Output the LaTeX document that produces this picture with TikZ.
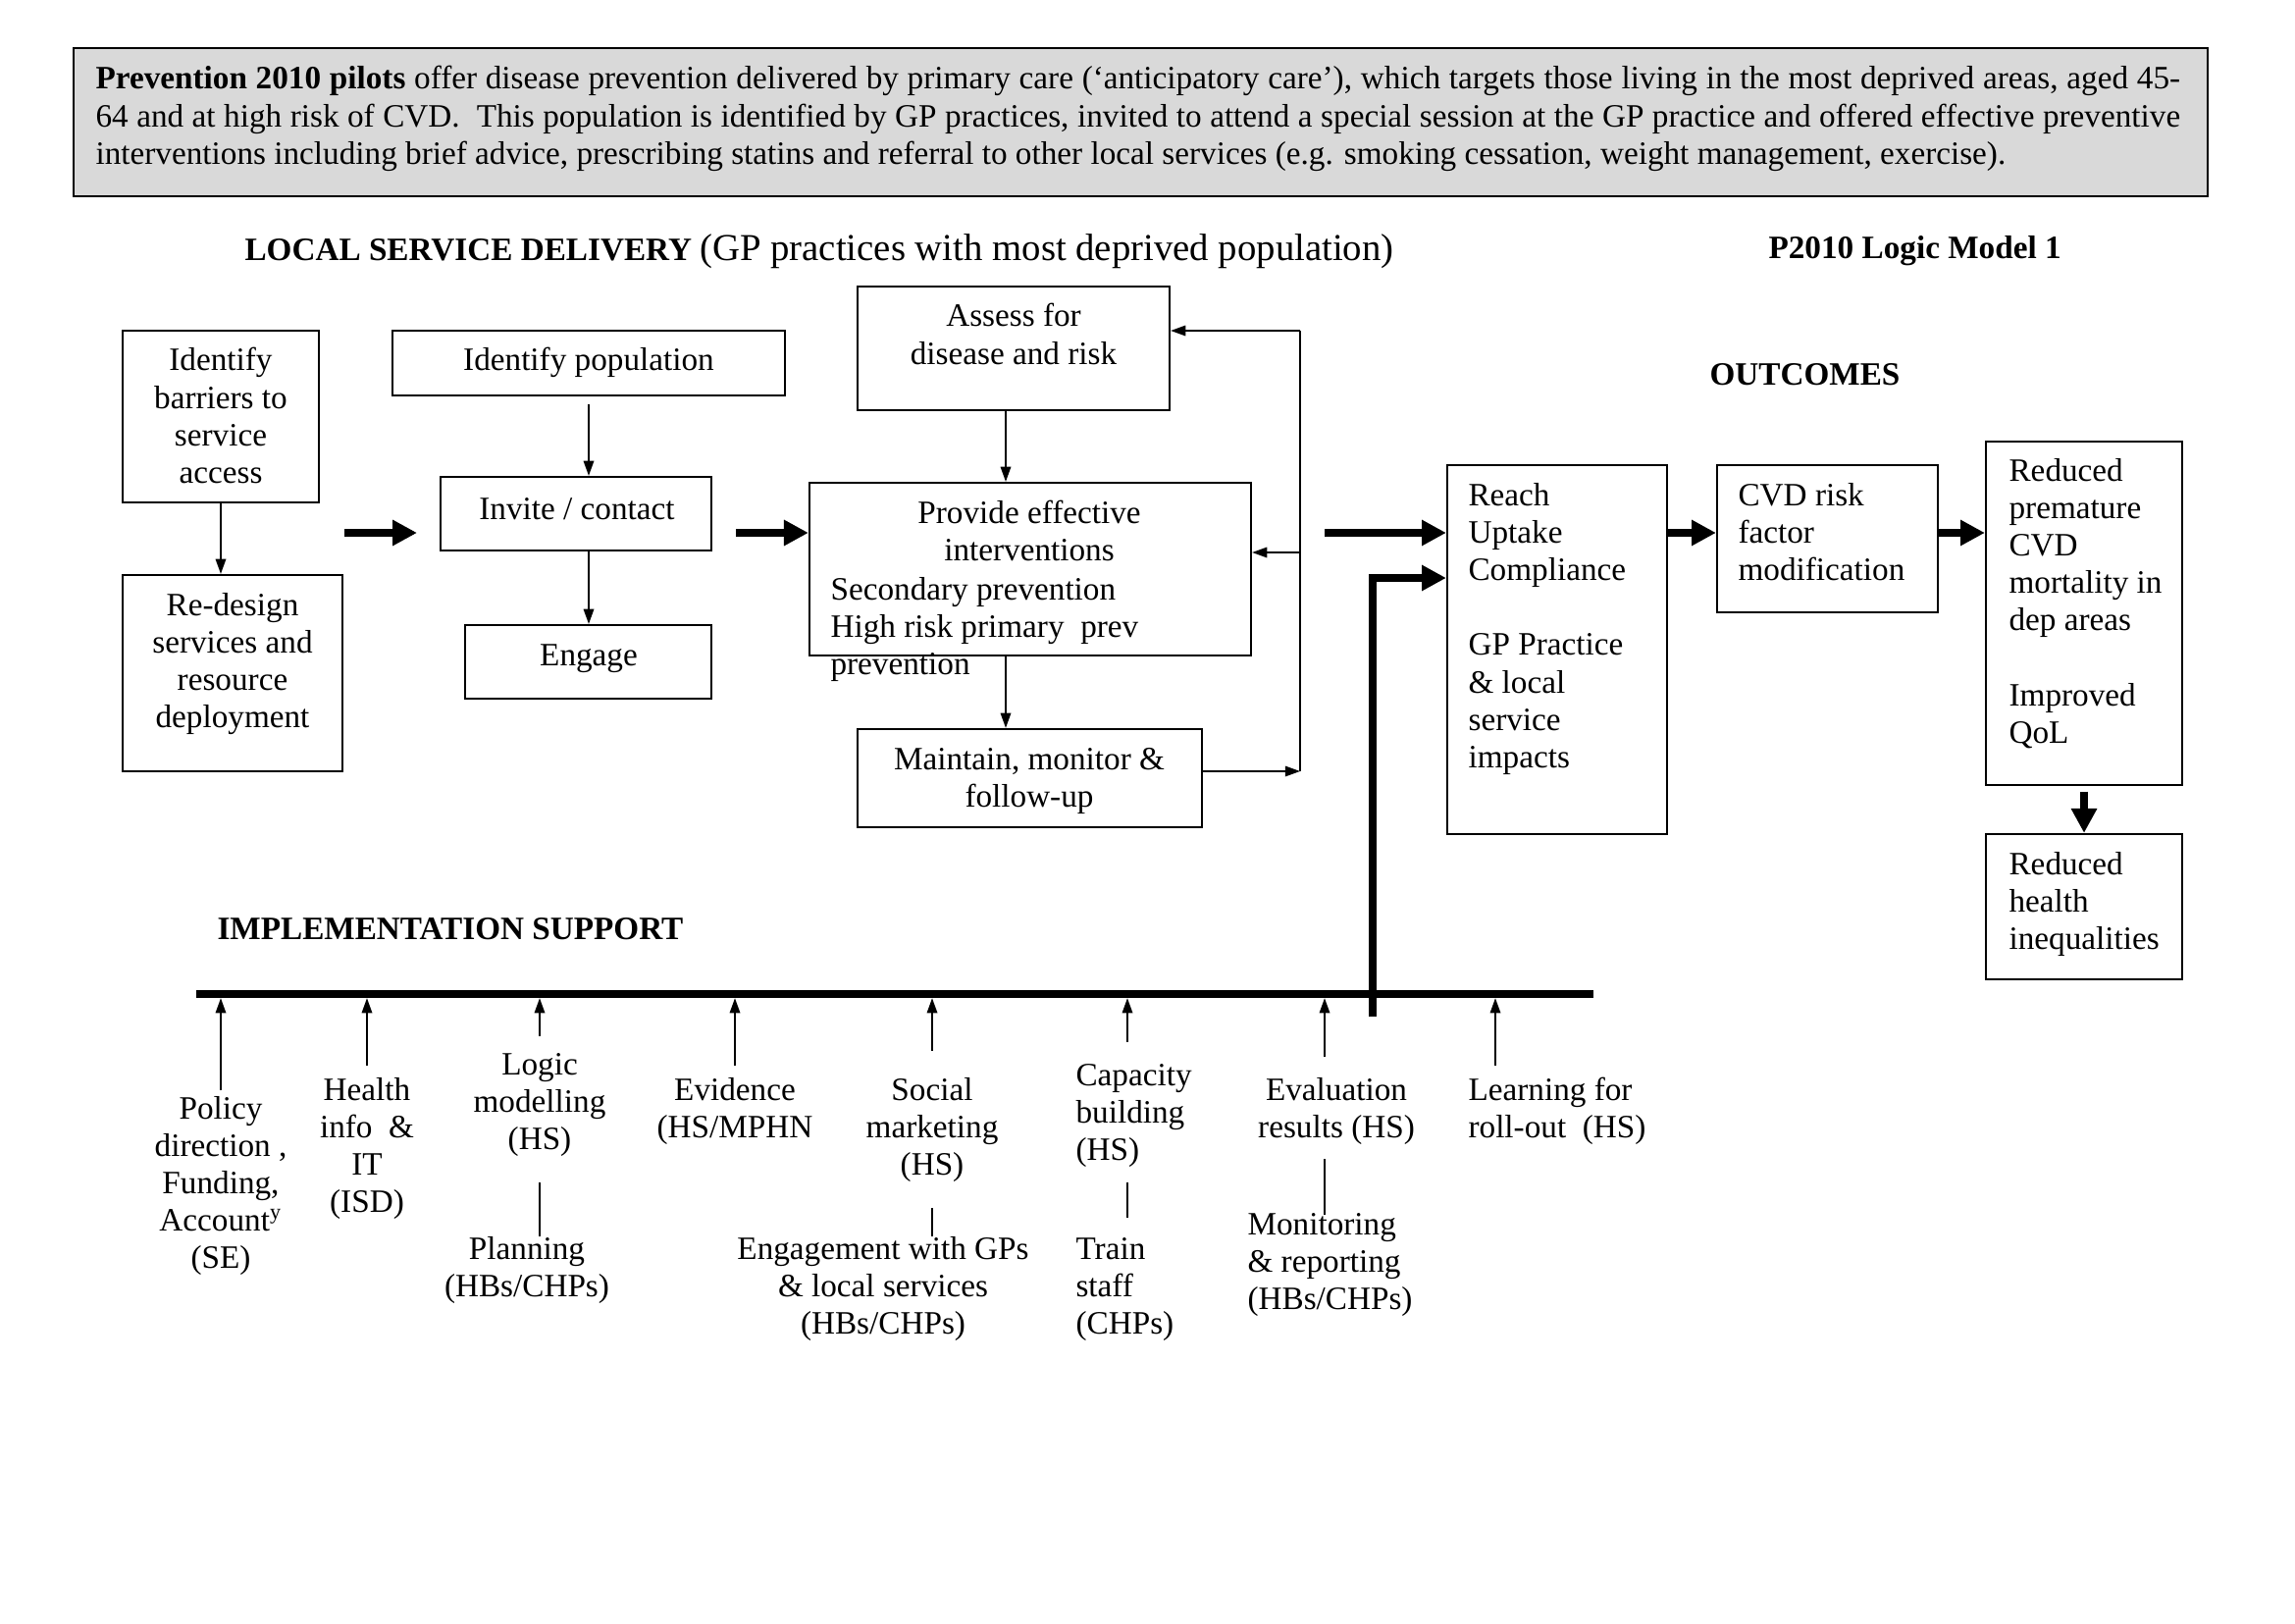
\documentclass[tikz,border=0pt]{standalone}
\usepackage{fontspec}
\setmainfont{Liberation Serif}
\usetikzlibrary{arrows.meta,fit}
\begin{document}
\begin{tikzpicture}[x=0.0127cm,y=-0.0127cm,
  font=\fontsize{12}{13.8}\selectfont,
  box/.style={draw,line width=0.8pt,inner sep=0pt},
  txt/.style={inner sep=0pt,align=center,anchor=base},
  txtl/.style={inner sep=0pt,align=left,anchor=base west},
  nlines/.style={yshift={-(#1-1)*13.8pt}},
  thinarrow/.style={line width=0.6pt,-{Triangle[length=5.5pt,width=3.8pt]}},
  thickarrow/.style={line width=3pt,-{Triangle[length=9pt,width=9pt]}},
  plainline/.style={line width=0.6pt},
]
\useasboundingbox (0,0) rectangle (2339,1654);

% intro box
\node[box, fill=black!15, fit={(75,49) (2250,200)}] (intro) {};
\node[inner sep=0pt, anchor=north west, text width=26.97cm, align=justify] (introT) at (97,67)
 {\textbf{Prevention 2010 pilots} offer disease prevention delivered by primary care (‘anticipatory care’), which targets those living in the most deprived areas, aged 45-\linebreak 64 and at high risk of CVD.\ \ This population is identified by GP practices, invited to attend a special session at the GP practice and offered effective preventive\linebreak interventions including brief advice, prescribing statins and referral to other local services (e.g. smoking cessation, weight management, exercise).};

% headings
\node[inner sep=0pt, anchor=base west] (hLocal) at (249,266) {\textbf{LOCAL SERVICE DELIVERY} {\fontsize{14}{16}\selectfont (GP practices with most deprived population)}};
\node[inner sep=0pt, anchor=base west] (hModel) at (1802,264) {\textbf{P2010 Logic Model 1}};
\node[inner sep=0pt, anchor=base west] (hOut) at (1742,393) {\textbf{OUTCOMES}};
\node[inner sep=0pt, anchor=base west] (hImpl) at (221,957) {\textbf{IMPLEMENTATION SUPPORT}};

% service delivery boxes
\node[box, fit={(125,337) (325,512)}] (barriers) {};
\node[txt, nlines=4] (barriersT) at (225,378) {Identify\\barriers to\\service\\access};
\node[box, fit={(125,586) (349,786)}] (redesign) {};
\node[txt, nlines=4] (redesignT) at (237,627) {Re-design\\services and\\resource\\deployment};
\node[box, fit={(400,337) (800,403)}] (idpop) {};
\node[txt] (idpopT) at (600,378) {Identify population};
\node[box, fit={(449,486) (725,561)}] (invite) {};
\node[txt] (inviteT) at (588,529) {Invite / contact};
\node[box, fit={(474,637) (725,712)}] (engage) {};
\node[txt] (engageT) at (600,678) {Engage};
\node[box, fit={(874,292) (1192,418)}] (assess) {};
\node[txt, nlines=2] (assessT) at (1033,333) {Assess for\\disease and risk};
\node[box, fit={(825,492) (1275,668)}] (provide) {};
\node[txt, nlines=2] (provideT) at (1049,533) {Provide effective\\interventions};
\node[txtl, nlines=3] (provideL) at (846,611) {Secondary prevention\\High risk primary\ \ prev\\prevention};
\node[box, fit={(874,743) (1225,843)}] (maintain) {};
\node[txt, nlines=2] (maintainT) at (1049,784) {Maintain, monitor \&\\follow-up};

% outcome boxes
\node[box, fit={(1475,474) (1699,850)}] (reach) {};
\node[txtl, nlines=8] (reachT) at (1496,515) {Reach\\Uptake\\Compliance\\[13.8pt]GP Practice\\\& local\\service\\impacts};
\node[box, fit={(1750,474) (1975,624)}] (cvd) {};
\node[txtl, nlines=3] (cvdT) at (1771,515) {CVD risk\\factor\\modification};
\node[box, fit={(2024,450) (2224,800)}] (redprem) {};
\node[txtl, nlines=8] (redpremT) at (2047,490) {Reduced\\premature\\CVD\\mortality in\\dep areas\\[13.8pt]Improved\\QoL};
\node[box, fit={(2024,850) (2224,998)}] (redhealth) {};
\node[txtl, nlines=3] (redhealthT) at (2047,891) {Reduced\\health\\inequalities};

% thin arrows in service delivery
\coordinate (colA) at (1025,0);
\draw[thinarrow] (barriers.south) -- (barriers.south |- redesign.north);
\draw[thinarrow] ([yshift=-3pt]idpop.south) -- (idpop.south |- invite.north);
\draw[thinarrow] (invite.south -| idpop.south) -- (idpop.south |- engage.north);
\draw[thinarrow] (assess.south -| colA) -- (colA |- provide.north);
\draw[thinarrow] (provide.south -| colA) -- (colA |- maintain.north);

% feedback loop
\coordinate (fbTop) at (1325,337);
\coordinate (fbMid) at (1325,563);
\coordinate (fbBot) at (1325,786);
\draw[thinarrow] (maintain.east |- fbBot) -- (fbBot);
\draw[plainline] (fbBot) -- (fbTop);
\draw[thinarrow] (fbTop) -- (assess.east |- fbTop);
\draw[thinarrow] (fbMid) -- (provide.east |- fbMid);

% thick arrows
\coordinate (k1a) at (351,543);
\coordinate (k1b) at (425,543);
\coordinate (k2a) at (750,543);
\coordinate (k3a) at (1350,543);
\coordinate (colR) at (2124,0);
\draw[thickarrow] (k1a) -- (k1b);
\draw[thickarrow] (k2a) -- (provide.west |- k2a);
\draw[thickarrow] (k3a) -- (reach.west |- k3a);
\draw[thickarrow] (reach.east |- k3a) -- (cvd.west |- k3a);
\draw[thickarrow] (cvd.east |- k3a) -- (redprem.west |- k3a);
\draw[thickarrow] ([yshift=-2pt]redprem.south -| colR) -- (colR |- redhealth.north);

% implementation bar and L connector
\coordinate (barL) at (200,1013);
\coordinate (barR) at (1624,1013);
\draw[line width=3pt] (barL) -- (barR);
\coordinate (lBot) at (1399,1036);
\coordinate (lTop) at (1399,589);
\draw[thickarrow] (lBot) -- (lTop) -- (reach.west |- lTop);

% implementation support labels
\node[txt, nlines=5] (policyT) at (225,1140) {Policy\\direction ,\\Funding,\\Account\textsuperscript{y}\\(SE)};
\node[txt, nlines=4] (healthT) at (374,1121) {Health\\info\ \ \&\\IT\\(ISD)};
\node[txt, nlines=3] (logicT) at (550,1095) {Logic\\modelling\\(HS)};
\node[txt, nlines=2] (planT) at (537,1283) {Planning\\(HBs/CHPs)};
\node[txt, nlines=2] (evidT) at (749,1121) {Evidence\\(HS/MPHN};
\node[txt, nlines=3] (socialT) at (950,1121) {Social\\marketing\\(HS)};
\node[txt, nlines=3] (engT) at (900,1283) {Engagement with GPs\\\& local services\\(HBs/CHPs)};
\node[txtl, nlines=3] (capT) at (1096,1106) {Capacity\\building\\(HS)};
\node[txtl, nlines=3] (trainT) at (1096,1283) {Train\\staff\\(CHPs)};
\node[txt, nlines=2] (evalT) at (1362,1121) {Evaluation\\results (HS)};
\node[txtl, nlines=3] (monT) at (1271,1258) {Monitoring\\\& reporting\\(HBs/CHPs)};
\node[txtl, nlines=2] (learnT) at (1496,1121) {Learning for\\roll-out\ \ (HS)};

% arrows up to the bar
\coordinate (aPol) at (225,1111);
\coordinate (aHea) at (374,1086);
\coordinate (aLog) at (550,1056);
\coordinate (aEvi) at (749,1086);
\coordinate (aSoc) at (950,1071);
\coordinate (aCap) at (1149,1062);
\coordinate (aEva) at (1350,1077);
\coordinate (aLea) at (1524,1086);
\foreach \c in {aPol,aHea,aLog,aEvi,aSoc,aCap,aEva,aLea}
  \draw[thinarrow, shorten >=1.5pt] (\c) -- (\c |- barL);

% plain links between label groups
\coordinate (lLog1) at (550,1205);  \coordinate (lLog2) at (550,1260);
\coordinate (lSoc1) at (950,1231);  \coordinate (lSoc2) at (950,1260);
\coordinate (lCap1) at (1149,1205); \coordinate (lCap2) at (1149,1241);
\coordinate (lEva1) at (1350,1181); \coordinate (lEva2) at (1350,1238);
\draw[plainline] (lLog1) -- (lLog2);
\draw[plainline] (lSoc1) -- (lSoc2);
\draw[plainline] (lCap1) -- (lCap2);
\draw[plainline] (lEva1) -- (lEva2);
\end{tikzpicture}
\end{document}
